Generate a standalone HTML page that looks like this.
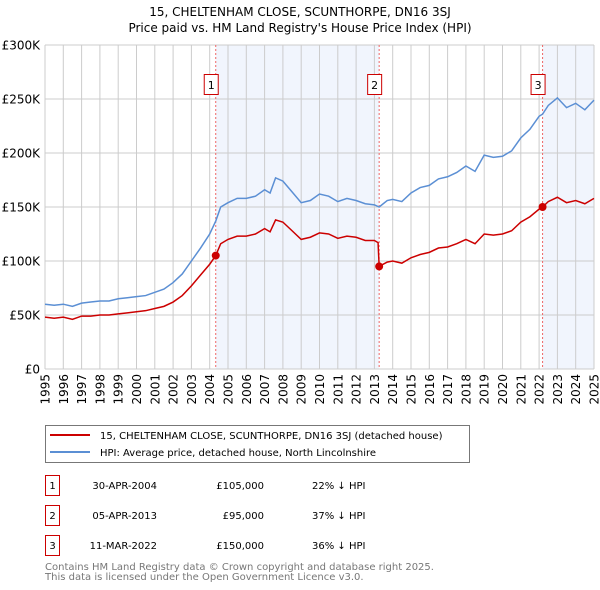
<!DOCTYPE html>
<html><head><meta charset="utf-8"><style>
body{margin:0;background:#fff;}
svg{display:block;font-family:"DejaVu Sans","Liberation Sans",sans-serif;}
</style></head><body>
<svg id="c" width="600" height="590" viewBox="0 0 600 590">
<text x="300" y="16" text-anchor="middle" font-size="12">15, CHELTENHAM CLOSE, SCUNTHORPE, DN16 3SJ</text>
<text x="300" y="32" text-anchor="middle" font-size="12">Price paid vs. HM Land Registry's House Price Index (HPI)</text>
<g id="plot"></g>
<g>
<rect x="45.5" y="425.5" width="424" height="37" fill="#fff" stroke="#777"/>
<line x1="50" y1="435" x2="90" y2="435" stroke="#cc0000" stroke-width="2"/>
<text x="100" y="439" font-size="10">15, CHELTENHAM CLOSE, SCUNTHORPE, DN16 3SJ (detached house)</text>
<line x1="50" y1="452" x2="90" y2="452" stroke="#5b8fd4" stroke-width="2"/>
<text x="100" y="456" font-size="10">HPI: Average price, detached house, North Lincolnshire</text>
</g>
<g font-size="10">
<rect x="45.5" y="475.5" width="14" height="20" fill="#fff" stroke="#cc0000"/><text x="52.5" y="489" text-anchor="middle">1</text>
<text x="157" y="489" text-anchor="end">30-APR-2004</text><text x="264" y="489" text-anchor="end">£105,000</text><text x="312" y="489">22% ↓ HPI</text>
<rect x="45.5" y="505.5" width="14" height="20" fill="#fff" stroke="#cc0000"/><text x="52.5" y="519" text-anchor="middle">2</text>
<text x="157" y="519" text-anchor="end">05-APR-2013</text><text x="264" y="519" text-anchor="end">£95,000</text><text x="312" y="519">37% ↓ HPI</text>
<rect x="45.5" y="535.5" width="14" height="20" fill="#fff" stroke="#cc0000"/><text x="52.5" y="549" text-anchor="middle">3</text>
<text x="157" y="549" text-anchor="end">11-MAR-2022</text><text x="264" y="549" text-anchor="end">£150,000</text><text x="312" y="549">36% ↓ HPI</text>
</g>
<text x="45" y="570" font-size="10" fill="#777">Contains HM Land Registry data © Crown copyright and database right 2025.</text>
<text x="45" y="580" font-size="10" fill="#777">This data is licensed under the Open Government Licence v3.0.</text>
</svg>
<script>
const yTicks=[0,50,100,150,200,250,300];
const yTickLabels=["£0","£50K","£100K","£150K","£200K","£250K","£300K"];
const years=[1995,1996,1997,1998,1999,2000,2001,2002,2003,2004,2005,2006,2007,2008,2009,2010,2011,2012,2013,2014,2015,2016,2017,2018,2019,2020,2021,2022,2023,2024,2025];
const hpiT=[1995,1995.5,1996,1996.5,1997,1997.5,1998,1998.5,1999,1999.5,2000,2000.5,2001,2001.5,2002,2002.5,2003,2003.5,2004,2004.33,2004.6,2005,2005.5,2006,2006.5,2007,2007.3,2007.6,2008,2008.5,2009,2009.5,2010,2010.5,2011,2011.5,2012,2012.5,2013,2013.26,2013.7,2014,2014.5,2015,2015.5,2016,2016.5,2017,2017.5,2018,2018.5,2019,2019.5,2020,2020.5,2021,2021.5,2022,2022.19,2022.5,2023,2023.5,2024,2024.5,2025];
const hpiV=[60,59,60,58,61,62,63,63,65,66,67,68,71,74,80,88,100,112,125,137,150,154,158,158,160,166,163,177,174,164,154,156,162,160,155,158,156,153,152,150,156,157,155,163,168,170,176,178,182,188,183,198,196,197,202,214,222,234,236,244,251,242,246,240,249];
const saleT=[2004.33,2013.26,2022.19];
const saleV=[105,95,150];
const priceT=[1995,1995.5,1996,1996.5,1997,1997.5,1998,1998.5,1999,1999.5,2000,2000.5,2001,2001.5,2002,2002.5,2003,2003.5,2004,2004.33,2004.6,2005,2005.5,2006,2006.5,2007,2007.3,2007.6,2008,2008.5,2009,2009.5,2010,2010.5,2011,2011.5,2012,2012.5,2013,2013.2,2013.26,2013.7,2014,2014.5,2015,2015.5,2016,2016.5,2017,2017.5,2018,2018.5,2019,2019.5,2020,2020.5,2021,2021.5,2022,2022.19,2022.5,2023,2023.5,2024,2024.5,2025];
const priceV=[48,47,48,46,49,49,50,50,51,52,53,54,56,58,62,68,77,87,97,105,116,120,123,123,125,130,127,138,136,128,120,122,126,125,121,123,122,119,119,117,95,99,100,98,103,106,108,112,113,116,120,116,125,124,125,128,136,141,148,150,155,159,154,156,153,158];
const NS='http://www.w3.org/2000/svg';
const L=45,R=594,T=45,B=369;
const x=t=>L+(t-1995)/30*(R-L);
const y=v=>B-v/300*(B-T);
const g=document.getElementById('plot');
function mk(tag,a){const e=document.createElementNS(NS,tag);for(const k in a)e.setAttribute(k,a[k]);g.appendChild(e);return e;}
let s=mk('rect',{x:x(saleT[0]),y:T,width:x(saleT[1])-x(saleT[0]),height:B-T,fill:'#f1f5fd'});


s=mk('rect',{x:x(saleT[2]),y:T,width:x(2025)-x(saleT[2]),height:B-T,fill:'#f1f5fd'});


yTicks.forEach((v,i)=>{
 const l=mk('line',{x1:L,x2:R,y1:y(v),y2:y(v),stroke:'#ccc'});
 
 
 const t=mk('text',{x:40,y:y(v)+4.5,'text-anchor':'end','font-size':12});
 t.textContent=yTickLabels[i];
 
 
});
years.forEach(yr=>{
 const l=mk('line',{x1:x(yr),x2:x(yr),y1:T,y2:B,stroke:'#ccc'});
 
 
 const t=mk('text',{x:0,y:0,'text-anchor':'end','font-size':12,transform:'translate('+(x(yr)+4.5)+',374) rotate(-90)'});
 t.textContent=yr;
 
 
});
saleT.forEach((t,i)=>{
 const l=mk('line',{x1:x(t),x2:x(t),y1:T,y2:B,stroke:'#e66','stroke-dasharray':'2,2'});
 
 
 const b=mk('rect',{x:x(t)-11.5,y:74.5,width:14,height:20,fill:'#fff',stroke:'#cc0000'});
 
 
 const tx=mk('text',{x:x(t)-4.5,y:89,'text-anchor':'middle','font-size':11});
 tx.textContent=i+1;
 
 
});
let p=mk('polyline',{points:hpiT.map((t,i)=>x(t)+','+y(hpiV[i])).join(' '),fill:'none',stroke:'#5b8fd4','stroke-width':1.5});


p=mk('polyline',{points:priceT.map((t,i)=>x(t)+','+y(priceV[i])).join(' '),fill:'none',stroke:'#cc0000','stroke-width':1.5});


saleT.forEach((t,i)=>{
 const c=mk('circle',{cx:x(t),cy:y(saleV[i]),r:4,fill:'#cc0000'});
 
 
});
</script>
</body></html>
